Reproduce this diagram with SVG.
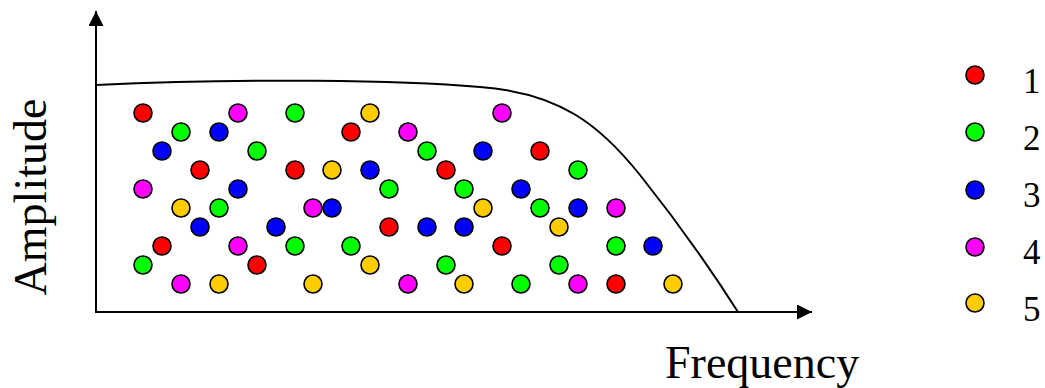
<svg xmlns="http://www.w3.org/2000/svg" width="1045" height="388" viewBox="0 0 1045 388">
<style>
.d{stroke:#000;stroke-width:1.6}
.r{fill:#FF0000}.g{fill:#00FF00}.b{fill:#0000FF}.m{fill:#FF00FF}.y{fill:#FFCC00}
.t{font-family:"Liberation Serif","Times New Roman",serif;fill:#000}
.ax{stroke:#000;stroke-width:2;fill:none}
</style>
<defs>
<marker id="ah" markerWidth="16" markerHeight="16" refX="15" refY="7.5" orient="auto" markerUnits="userSpaceOnUse">
<path d="M0,0 L15,7.5 L0,15 Z" fill="#000"/>
</marker>
</defs>
<g id="connectors">
<line class="ax" x1="96" y1="313" x2="96" y2="11" marker-end="url(#ah)"/>
<line class="ax" x1="95" y1="312" x2="812" y2="312" marker-end="url(#ah)"/>
<path class="ax" d="M96,85 C250,78 400,80 480,87 C560,93 600,125 640,175 C680,225 710,268 738,312"/>
</g>
<g id="labels">
<text class="t" x="665" y="378" font-size="46">Frequency</text>
<text class="t" transform="translate(46,197) rotate(-90)" text-anchor="middle" font-size="46">Amplitude</text>
</g>
<g id="dots">
<circle class="d r" cx="143" cy="113" r="9"/>
<circle class="d m" cx="238" cy="113" r="9"/>
<circle class="d g" cx="295" cy="113" r="9"/>
<circle class="d y" cx="370" cy="113" r="9"/>
<circle class="d m" cx="502" cy="113" r="9"/>
<circle class="d g" cx="181" cy="132" r="9"/>
<circle class="d b" cx="219" cy="132" r="9"/>
<circle class="d r" cx="351" cy="132" r="9"/>
<circle class="d m" cx="408" cy="132" r="9"/>
<circle class="d b" cx="162" cy="151" r="9"/>
<circle class="d g" cx="257" cy="151" r="9"/>
<circle class="d g" cx="427" cy="151" r="9"/>
<circle class="d b" cx="483" cy="151" r="9"/>
<circle class="d r" cx="540" cy="151" r="9"/>
<circle class="d r" cx="200" cy="170" r="9"/>
<circle class="d r" cx="295" cy="170" r="9"/>
<circle class="d y" cx="332" cy="170" r="9"/>
<circle class="d b" cx="370" cy="170" r="9"/>
<circle class="d r" cx="446" cy="170" r="9"/>
<circle class="d g" cx="578" cy="170" r="9"/>
<circle class="d m" cx="143" cy="189" r="9"/>
<circle class="d b" cx="238" cy="189" r="9"/>
<circle class="d g" cx="389" cy="189" r="9"/>
<circle class="d g" cx="464" cy="189" r="9"/>
<circle class="d b" cx="521" cy="189" r="9"/>
<circle class="d y" cx="181" cy="208" r="9"/>
<circle class="d g" cx="219" cy="208" r="9"/>
<circle class="d m" cx="313" cy="208" r="9"/>
<circle class="d b" cx="332" cy="208" r="9"/>
<circle class="d y" cx="483" cy="208" r="9"/>
<circle class="d g" cx="540" cy="208" r="9"/>
<circle class="d b" cx="578" cy="208" r="9"/>
<circle class="d m" cx="616" cy="208" r="9"/>
<circle class="d b" cx="200" cy="227" r="9"/>
<circle class="d b" cx="276" cy="227" r="9"/>
<circle class="d r" cx="389" cy="227" r="9"/>
<circle class="d b" cx="427" cy="227" r="9"/>
<circle class="d b" cx="464" cy="227" r="9"/>
<circle class="d y" cx="559" cy="227" r="9"/>
<circle class="d r" cx="162" cy="246" r="9"/>
<circle class="d m" cx="238" cy="246" r="9"/>
<circle class="d g" cx="295" cy="246" r="9"/>
<circle class="d g" cx="351" cy="246" r="9"/>
<circle class="d r" cx="502" cy="246" r="9"/>
<circle class="d g" cx="616" cy="246" r="9"/>
<circle class="d b" cx="653" cy="246" r="9"/>
<circle class="d g" cx="143" cy="265" r="9"/>
<circle class="d r" cx="257" cy="265" r="9"/>
<circle class="d y" cx="370" cy="265" r="9"/>
<circle class="d g" cx="446" cy="265" r="9"/>
<circle class="d g" cx="559" cy="265" r="9"/>
<circle class="d m" cx="181" cy="284" r="9"/>
<circle class="d y" cx="219" cy="284" r="9"/>
<circle class="d y" cx="313" cy="284" r="9"/>
<circle class="d m" cx="408" cy="284" r="9"/>
<circle class="d y" cx="464" cy="284" r="9"/>
<circle class="d g" cx="521" cy="284" r="9"/>
<circle class="d m" cx="578" cy="284" r="9"/>
<circle class="d r" cx="616" cy="284" r="9"/>
<circle class="d y" cx="673" cy="284" r="9"/>
</g>
<g id="legend">
<circle class="d r" cx="975" cy="75" r="9"/>
<circle class="d g" cx="975" cy="132" r="9"/>
<circle class="d b" cx="975" cy="190" r="9"/>
<circle class="d m" cx="975" cy="247" r="9"/>
<circle class="d y" cx="975" cy="303" r="9"/>
<text class="t" x="1023" y="93" font-size="35">1</text>
<text class="t" x="1023" y="150" font-size="35">2</text>
<text class="t" x="1023" y="207" font-size="35">3</text>
<text class="t" x="1023" y="264" font-size="35">4</text>
<text class="t" x="1023" y="321" font-size="35">5</text>
</g>
</svg>
